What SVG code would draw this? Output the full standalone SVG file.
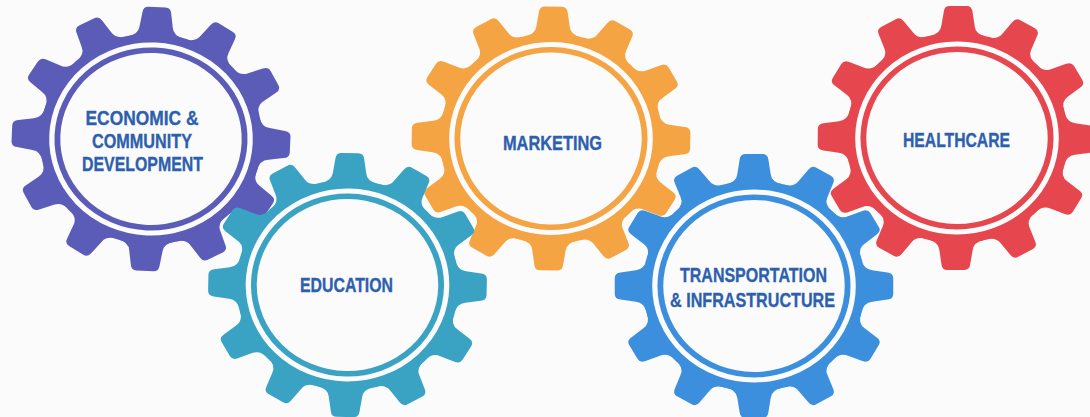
<svg xmlns="http://www.w3.org/2000/svg" xmlns:xlink="http://www.w3.org/1999/xlink" width="1090" height="417" viewBox="0 0 1090 417">
<style>
.lbl{font-family:"Liberation Sans","Arial",sans-serif;font-weight:bold;font-size:20px;fill:#2d5fae;stroke:#2d5fae;stroke-width:0.35;text-anchor:middle}
.gap{fill:none;stroke:#fbfbfb;stroke-width:5}
.hole{fill:#fbfbfb}
.purple{fill:#5b5cb8}
.teal{fill:#3aa3c4}
.orange{fill:#f4a443}
.blue{fill:#3b8fdc}
.red{fill:#e6474f}
</style>
<defs>
<path id="tooth" d="M -27,-101.5 Q -16.5,-104 -15.8,-112 L -13.6,-126.5 Q -13,-132 -8,-132 L 8,-132 Q 13,-132 13.6,-126.5 L 15.8,-112 Q 16.5,-104 27,-101.5 Z"/>
<g id="gear">
<circle r="105.5"/>
<use xlink:href="#tooth"/>
<use xlink:href="#tooth" transform="rotate(30)"/>
<use xlink:href="#tooth" transform="rotate(60)"/>
<use xlink:href="#tooth" transform="rotate(90)"/>
<use xlink:href="#tooth" transform="rotate(120)"/>
<use xlink:href="#tooth" transform="rotate(150)"/>
<use xlink:href="#tooth" transform="rotate(180)"/>
<use xlink:href="#tooth" transform="rotate(210)"/>
<use xlink:href="#tooth" transform="rotate(240)"/>
<use xlink:href="#tooth" transform="rotate(270)"/>
<use xlink:href="#tooth" transform="rotate(300)"/>
<use xlink:href="#tooth" transform="rotate(330)"/>
<circle class="gap" r="94"/>
<circle class="hole" r="86"/>
</g>
</defs>
<rect width="1090" height="417" fill="#fbfbfb"/>
<g id="gear-economic">
<use xlink:href="#gear" class="purple" transform="translate(151,139) scale(1.055,1) rotate(2.5)"/>
<text class="lbl" x="142" y="124.5" textLength="113" lengthAdjust="spacingAndGlyphs">ECONOMIC &amp;</text>
<text class="lbl" x="142" y="148" textLength="100" lengthAdjust="spacingAndGlyphs">COMMUNITY</text>
<text class="lbl" x="142.5" y="171" textLength="121" lengthAdjust="spacingAndGlyphs">DEVELOPMENT</text>
</g>
<g id="gear-marketing">
<use xlink:href="#gear" class="orange" transform="translate(551,138.5) scale(1.055,1) rotate(1)"/>
<text class="lbl" x="552.5" y="150" textLength="99" lengthAdjust="spacingAndGlyphs">MARKETING</text>
</g>
<g id="gear-healthcare">
<use xlink:href="#gear" class="red" transform="translate(957,138) scale(1.055,1) rotate(0.5)"/>
<text class="lbl" x="956.5" y="146.5" textLength="107" lengthAdjust="spacingAndGlyphs">HEALTHCARE</text>
</g>
<g id="gear-education">
<use xlink:href="#gear" class="teal" transform="translate(347.5,285) scale(1.055,1) rotate(1)"/>
<text class="lbl" x="346.5" y="291.5" textLength="93" lengthAdjust="spacingAndGlyphs">EDUCATION</text>
</g>
<g id="gear-transportation">
<use xlink:href="#gear" class="blue" transform="translate(754,286) scale(1.055,1) rotate(0)"/>
<text class="lbl" x="753.5" y="282" textLength="147" lengthAdjust="spacingAndGlyphs">TRANSPORTATION</text>
<text class="lbl" x="752.5" y="307" textLength="165" lengthAdjust="spacingAndGlyphs">&amp; INFRASTRUCTURE</text>
</g>
</svg>
